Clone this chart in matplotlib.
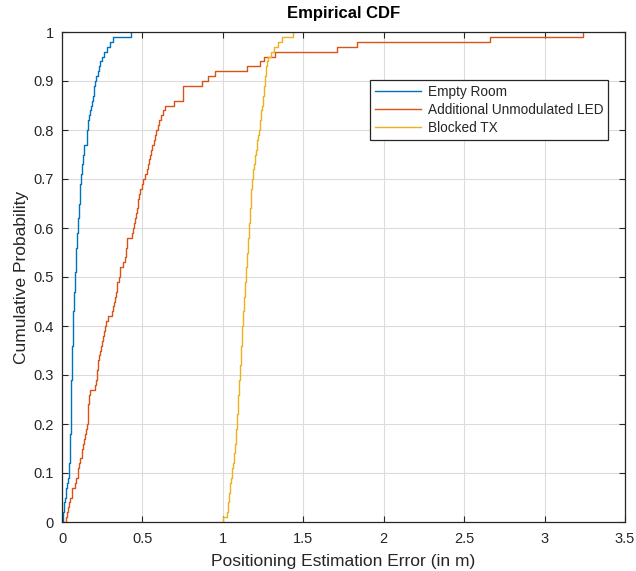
import numpy as np
import matplotlib
matplotlib.use("Agg")
import matplotlib.pyplot as plt

plt.rcParams['font.family'] = ['Liberation Sans', 'DejaVu Sans']

# Sorted error samples (m) read from the empirical CDF steps
empty_room = [
    0.004, 0.008, 0.012, 0.015, 0.018, 0.025, 0.027, 0.030, 0.036, 0.042,
    0.045, 0.046, 0.047, 0.048, 0.049, 0.050, 0.051, 0.052, 0.053, 0.054,
    0.055, 0.055, 0.056, 0.056, 0.057, 0.058, 0.058, 0.059, 0.059, 0.060,
    0.061, 0.062, 0.062, 0.063, 0.064, 0.065, 0.066, 0.066, 0.067, 0.068,
    0.069, 0.070, 0.071, 0.073, 0.074, 0.075, 0.077, 0.078, 0.079, 0.081,
    0.082, 0.084, 0.085, 0.087, 0.089, 0.090, 0.092, 0.094, 0.096, 0.098,
    0.100, 0.102, 0.104, 0.105, 0.107, 0.109, 0.111, 0.112, 0.114, 0.116,
    0.119, 0.122, 0.125, 0.128, 0.129, 0.134, 0.139, 0.153, 0.154, 0.155,
    0.160, 0.164, 0.168, 0.172, 0.178, 0.189, 0.193, 0.197, 0.201, 0.205,
    0.213, 0.222, 0.229, 0.236, 0.250, 0.263, 0.280, 0.300, 0.320, 0.430,
]

unmodulated_led = [
    0.025, 0.030, 0.039, 0.045, 0.052, 0.060, 0.065, 0.081, 0.088, 0.098,
    0.102, 0.108, 0.115, 0.122, 0.126, 0.131, 0.137, 0.145, 0.150, 0.157,
    0.159, 0.160, 0.161, 0.162, 0.165, 0.170, 0.174, 0.205, 0.210, 0.215,
    0.219, 0.222, 0.226, 0.230, 0.236, 0.243, 0.250, 0.256, 0.262, 0.267,
    0.276, 0.284, 0.309, 0.316, 0.325, 0.330, 0.335, 0.340, 0.345, 0.352,
    0.358, 0.362, 0.381, 0.389, 0.396, 0.400, 0.403, 0.406, 0.433, 0.440,
    0.447, 0.454, 0.460, 0.466, 0.470, 0.475, 0.479, 0.485, 0.495, 0.506,
    0.515, 0.527, 0.534, 0.541, 0.547, 0.553, 0.561, 0.570, 0.578, 0.586,
    0.595, 0.605, 0.616, 0.628, 0.640, 0.698, 0.755, 0.755, 0.755, 0.869,
    0.906, 0.951, 1.149, 1.231, 1.258, 1.325, 1.708, 1.833, 2.660, 3.238,
]

blocked_tx = [
    1.003, 1.024, 1.030, 1.034, 1.037, 1.040, 1.043, 1.046, 1.050, 1.055,
    1.059, 1.063, 1.067, 1.071, 1.076, 1.078, 1.080, 1.082, 1.084, 1.086,
    1.088, 1.090, 1.092, 1.094, 1.095, 1.097, 1.099, 1.101, 1.103, 1.105,
    1.107, 1.109, 1.110, 1.112, 1.114, 1.115, 1.117, 1.119, 1.120, 1.122,
    1.124, 1.126, 1.128, 1.130, 1.132, 1.134, 1.136, 1.138, 1.140, 1.142,
    1.144, 1.146, 1.148, 1.150, 1.152, 1.154, 1.156, 1.158, 1.160, 1.162,
    1.164, 1.166, 1.168, 1.170, 1.172, 1.174, 1.176, 1.178, 1.181, 1.184,
    1.187, 1.190, 1.194, 1.198, 1.202, 1.207, 1.211, 1.215, 1.220, 1.225,
    1.228, 1.232, 1.236, 1.240, 1.244, 1.248, 1.251, 1.254, 1.257, 1.260,
    1.263, 1.266, 1.270, 1.276, 1.282, 1.300, 1.318, 1.340, 1.365, 1.437,
]

series_labels = ["Empty Room", "Additional Unmodulated LED", "Blocked TX"]
series_colors = ["#0072BD", "#D95319", "#EDB120"]
x_ticks = [0, 0.5, 1, 1.5, 2, 2.5, 3, 3.5]
x_tick_labels = ["0", "0.5", "1", "1.5", "2", "2.5", "3", "3.5"]
y_ticks = [0, 0.1, 0.2, 0.3, 0.4, 0.5, 0.6, 0.7, 0.8, 0.9, 1]
y_tick_labels = ["0", "0.1", "0.2", "0.3", "0.4", "0.5", "0.6", "0.7", "0.8", "0.9", "1"]

axc = "#262626"

fig = plt.figure(figsize=(6.36, 5.71), dpi=100)
ax = fig.add_axes([62/636, 49/571, 563/636, 490/571])

for data, lab, col in zip([empty_room, unmodulated_led, blocked_tx], series_labels, series_colors):
    x = np.sort(np.asarray(data, dtype=float))
    n = len(x)
    xs = np.r_[x[0], x]
    ys = np.r_[0.0, np.arange(1, n + 1) / n]
    ax.step(xs, ys, where='post', color=col, lw=1.0, label=lab)

ax.set_xlim(0, 3.5)
ax.set_ylim(0, 1)
ax.set_xticks(x_ticks)
ax.set_xticklabels(x_tick_labels)
ax.set_yticks(y_ticks)
ax.set_yticklabels(y_tick_labels)
ax.grid(True, color="#dcdcdc", lw=0.8)
ax.set_axisbelow(True)
ax.tick_params(direction='in', length=4, width=0.8, colors=axc, labelsize=10.5,
               top=True, right=True)
ax.tick_params(axis='x', pad=7)
ax.tick_params(axis='y', pad=6)
for s in ax.spines.values():
    s.set_color(axc)
    s.set_linewidth(0.9)

ax.set_title("Empirical CDF", fontsize=12, fontweight='bold', color='black', pad=10)
ax.set_xlabel("Positioning Estimation Error (in m)", fontsize=12.5, color=axc, labelpad=6)
ax.set_ylabel("Cumulative Probability", fontsize=12.5, color=axc, labelpad=3)

leg = ax.legend(loc='upper right', bbox_to_anchor=(0.97, 0.902), borderaxespad=0,
                fontsize=9.8, fancybox=False, framealpha=1, edgecolor=axc,
                handlelength=3.4, handletextpad=0.5, borderpad=0.35, labelspacing=0.3)
leg.get_frame().set_linewidth(0.9)
for t in leg.get_texts():
    t.set_color(axc)

fig.savefig("out.png", dpi=100)
